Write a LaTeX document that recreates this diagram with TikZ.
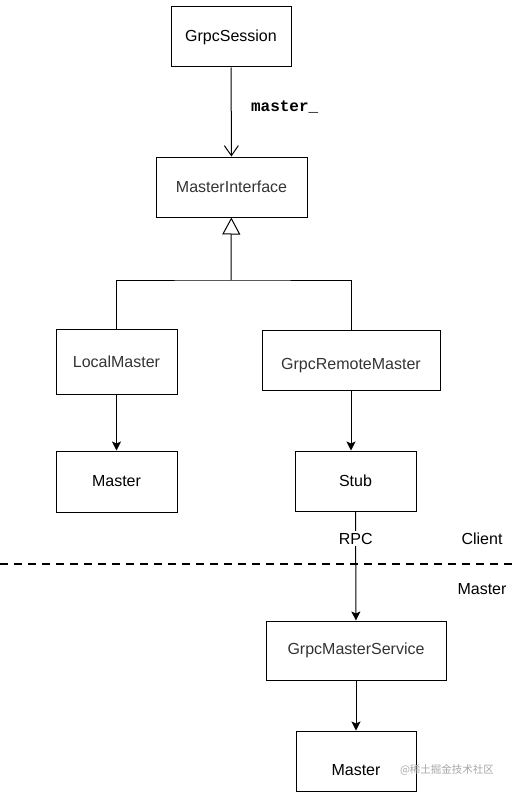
\documentclass[tikz,border=0pt]{standalone}
\usepackage{fontspec}
\setmainfont{Liberation Sans}
\newfontfamily\codefont{Liberation Mono}
\newfontfamily\cjk{Noto Sans CJK SC}
\usetikzlibrary{arrows.meta}
\definecolor{boxtext}{HTML}{333333}

\begin{document}
\begin{tikzpicture}[x=1pt, y=-1pt,
    box/.style={draw, line width=1pt, inner sep=0pt, font=\fontsize{16}{19}\selectfont},
    link/.style={line width=1pt},
    call/.style={link, -{Stealth[length=9, width=9, inset=2]}}]
    \useasboundingbox (0,0) rectangle (512,792);

    \node[box, minimum width=120, minimum height=60] (session) at (231,37) {GrpcSession};
    \node[box, text=boxtext, minimum width=151, minimum height=60] (iface) at (231.5,187) {MasterInterface};
    \node[box, text=boxtext, minimum width=121, minimum height=65] (local) at (116.5,361.5) {LocalMaster};
    \node[box, text=boxtext, minimum width=178, minimum height=60] (remote) at (351,360) {\raisebox{-9pt}[0pt][0pt]{GrpcRemoteMaster}};
    \node[box, minimum width=121, minimum height=61] (master) at (116.5,481.5) {Master};
    \node[box, minimum width=121, minimum height=60] (stub) at (355.5,481) {Stub};
    \node[box, text=boxtext, minimum width=180, minimum height=59] (service) at (356,650.5) {GrpcMasterService};
    \node[box, minimum width=120, minimum height=60] (remotemaster) at (356,761) {\raisebox{-14pt}[0pt][0pt]{Master}};

    % session -> interface
    \draw[link, -{Straight Barb[length=10, width=14]}] (session) -- node[pos=0.44, anchor=west, xshift=16, font=\fontsize{16}{19}\codefont\bfseries]{master\_} (iface);

    % inheritance
    \coordinate (fork) at (231,280);
    \draw[link, -{Triangle[open, length=17, width=18]}] (fork) -- (iface);
    \draw[link] (local) |- (fork) -| (remote);

    \draw[call] (local) -- (master);
    \draw[call] (remote.south) -- (remote.south |- stub.north);

    % client / master split
    \draw[line width=1.5pt, dash pattern=on 8pt off 6pt] (0,564) -- (512,564);
    \node[font=\fontsize{16}{19}\selectfont] (client) at (482,539) {Client};
    \node[font=\fontsize{16}{19}\selectfont] (server) at (482,589) {Master};

    \draw[call] (stub) -- node[pos=0.25, fill=white, inner sep=2pt, font=\fontsize{16}{19}\selectfont]{RPC} (service);
    \draw[call] (service) -- (remotemaster);

    \node[text=black!35, font=\fontsize{10.5}{12}\cjk] (mark) at (447,770) {@稀土掘金技术社区};
\end{tikzpicture}
\end{document}
